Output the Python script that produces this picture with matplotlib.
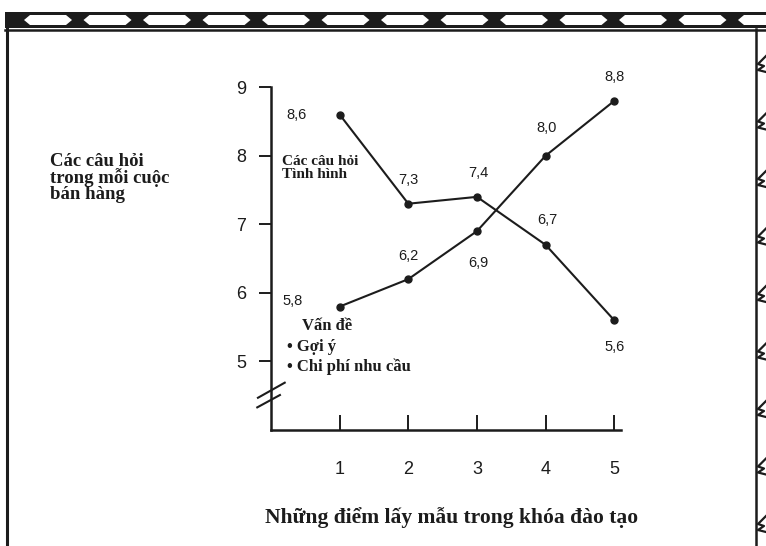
import matplotlib
matplotlib.use("Agg")
import matplotlib.pyplot as plt
from matplotlib.patches import Rectangle, Polygon

# Data
sample_points = [1, 2, 3, 4, 5]
situation_values = [8.6, 7.3, 7.4, 6.7, 5.6]
problem_values = [5.8, 6.2, 6.9, 8.0, 8.8]
y_ticks = [5, 6, 7, 8, 9]

y_label = "Các câu hỏi\ntrong mỗi cuộc\nbán hàng"
x_label = "Những điểm lấy mẫu trong khóa đào tạo"
situation_name = "Các câu hỏi\nTình hình"
problem_names = ["Vấn đề", "• Gợi ý", "• Chi phí nhu cầu"]

# label offsets (points) for the value annotations
situation_offsets = [(-31, 0), (0, 17), (1, 17), (1, 18), (0, -19)]
problem_offsets = [(-34, 4), (0, 17), (1, -23), (1, 20), (0, 17)]

INK = "#1c1c1c"
SERIF = ["Liberation Serif", "DejaVu Serif"]
SANS = ["Liberation Sans", "DejaVu Sans"]

fig = plt.figure(figsize=(7.66, 5.46), dpi=100)
W, H = 766, 546

# Decorative frame drawn in pixel coordinates
deco = fig.add_axes([0, 0, 1, 1], zorder=0)
deco.set_xlim(0, W)
deco.set_ylim(H, 0)
deco.axis("off")
deco.add_patch(Rectangle((5, 12), W - 5, 16, color=INK, lw=0))
cx = 48
while cx < W + 30:
    deco.add_patch(Polygon([(cx - 24, 20), (cx - 18, 15), (cx + 18, 15),
                            (cx + 24, 20), (cx + 18, 25), (cx - 18, 25)],
                           closed=True, color="white", lw=0))
    cx += 59.5
deco.plot([5, W], [29.5, 29.5], color=INK, lw=1.8)
deco.plot([7, 7], [29, H], color=INK, lw=2.2)
deco.plot([756, 756], [29, H], color=INK, lw=1.8)
my = 62
while my < H:
    deco.plot([766, 758, 764, 758, 766], [my - 6, my + 2, my + 4, my + 8, my + 10],
              color=INK, lw=1.6)
    my += 57.5

# Main axes
ax = fig.add_axes([271 / W, (H - 430) / H, 357 / W, 360 / H], zorder=1)
ax.patch.set_alpha(0)
ax.set_xlim(0, 5.2)
ax.set_ylim(4.0, 9.25)
for side in ["top", "right"]:
    ax.spines[side].set_visible(False)
ax.spines["left"].set_bounds(4.0, 9.0)
ax.spines["bottom"].set_bounds(0, 5.1)
for side in ["left", "bottom"]:
    ax.spines[side].set_linewidth(1.8)
    ax.spines[side].set_color(INK)

ax.set_xticks(sample_points)
ax.set_yticks(y_ticks)
ax.tick_params(axis="x", direction="in", length=11, width=1.4, pad=22,
               labelsize=13, colors=INK)
ax.tick_params(axis="y", direction="out", length=9, width=1.4, pad=9,
               labelsize=13, colors=INK)
for lab in ax.get_xticklabels() + ax.get_yticklabels():
    lab.set_family(SANS)

# axis break marks
ax.plot([-0.19, 0.2], [4.47, 4.69], color=INK, lw=1.5, clip_on=False)
ax.plot([-0.2, 0.13], [4.33, 4.51], color=INK, lw=1.5, clip_on=False)

ax.plot(sample_points, situation_values, color=INK, lw=1.5, marker="o", ms=5)
ax.plot(sample_points, problem_values, color=INK, lw=1.5, marker="o", ms=5)

for xv, yv, off in zip(sample_points, situation_values, situation_offsets):
    ax.annotate(f"{yv:.1f}".replace(".", ","), (xv, yv), xytext=off,
                textcoords="offset points", ha="center", va="center",
                fontsize=10.5, family=SANS, color=INK)
for xv, yv, off in zip(sample_points, problem_values, problem_offsets):
    ax.annotate(f"{yv:.1f}".replace(".", ","), (xv, yv), xytext=off,
                textcoords="offset points", ha="center", va="center",
                fontsize=10.5, family=SANS, color=INK)

# series names
fig.text(282 / W, 1 - 155 / H, situation_name, ha="left", va="top",
         fontsize=11, fontweight="bold", family=SERIF, color=INK, linespacing=0.95)
fig.text(302 / W, 1 - 326 / H, problem_names[0], ha="left", va="center",
         fontsize=12, fontweight="bold", family=SERIF, color=INK)
fig.text(287 / W, 1 - 347 / H, problem_names[1], ha="left", va="center",
         fontsize=12, fontweight="bold", family=SERIF, color=INK)
fig.text(287 / W, 1 - 367 / H, problem_names[2], ha="left", va="center",
         fontsize=12, fontweight="bold", family=SERIF, color=INK)

# axis titles
fig.text(50 / W, 1 - 153 / H, y_label, ha="left", va="top", fontsize=13.5,
         fontweight="bold", family=SERIF, color=INK, linespacing=0.9)
fig.text(452 / W, 1 - 518 / H, x_label, ha="center", va="center", fontsize=15.5,
         fontweight="bold", family=SERIF, color=INK)

fig.savefig("out.png", dpi=100)
